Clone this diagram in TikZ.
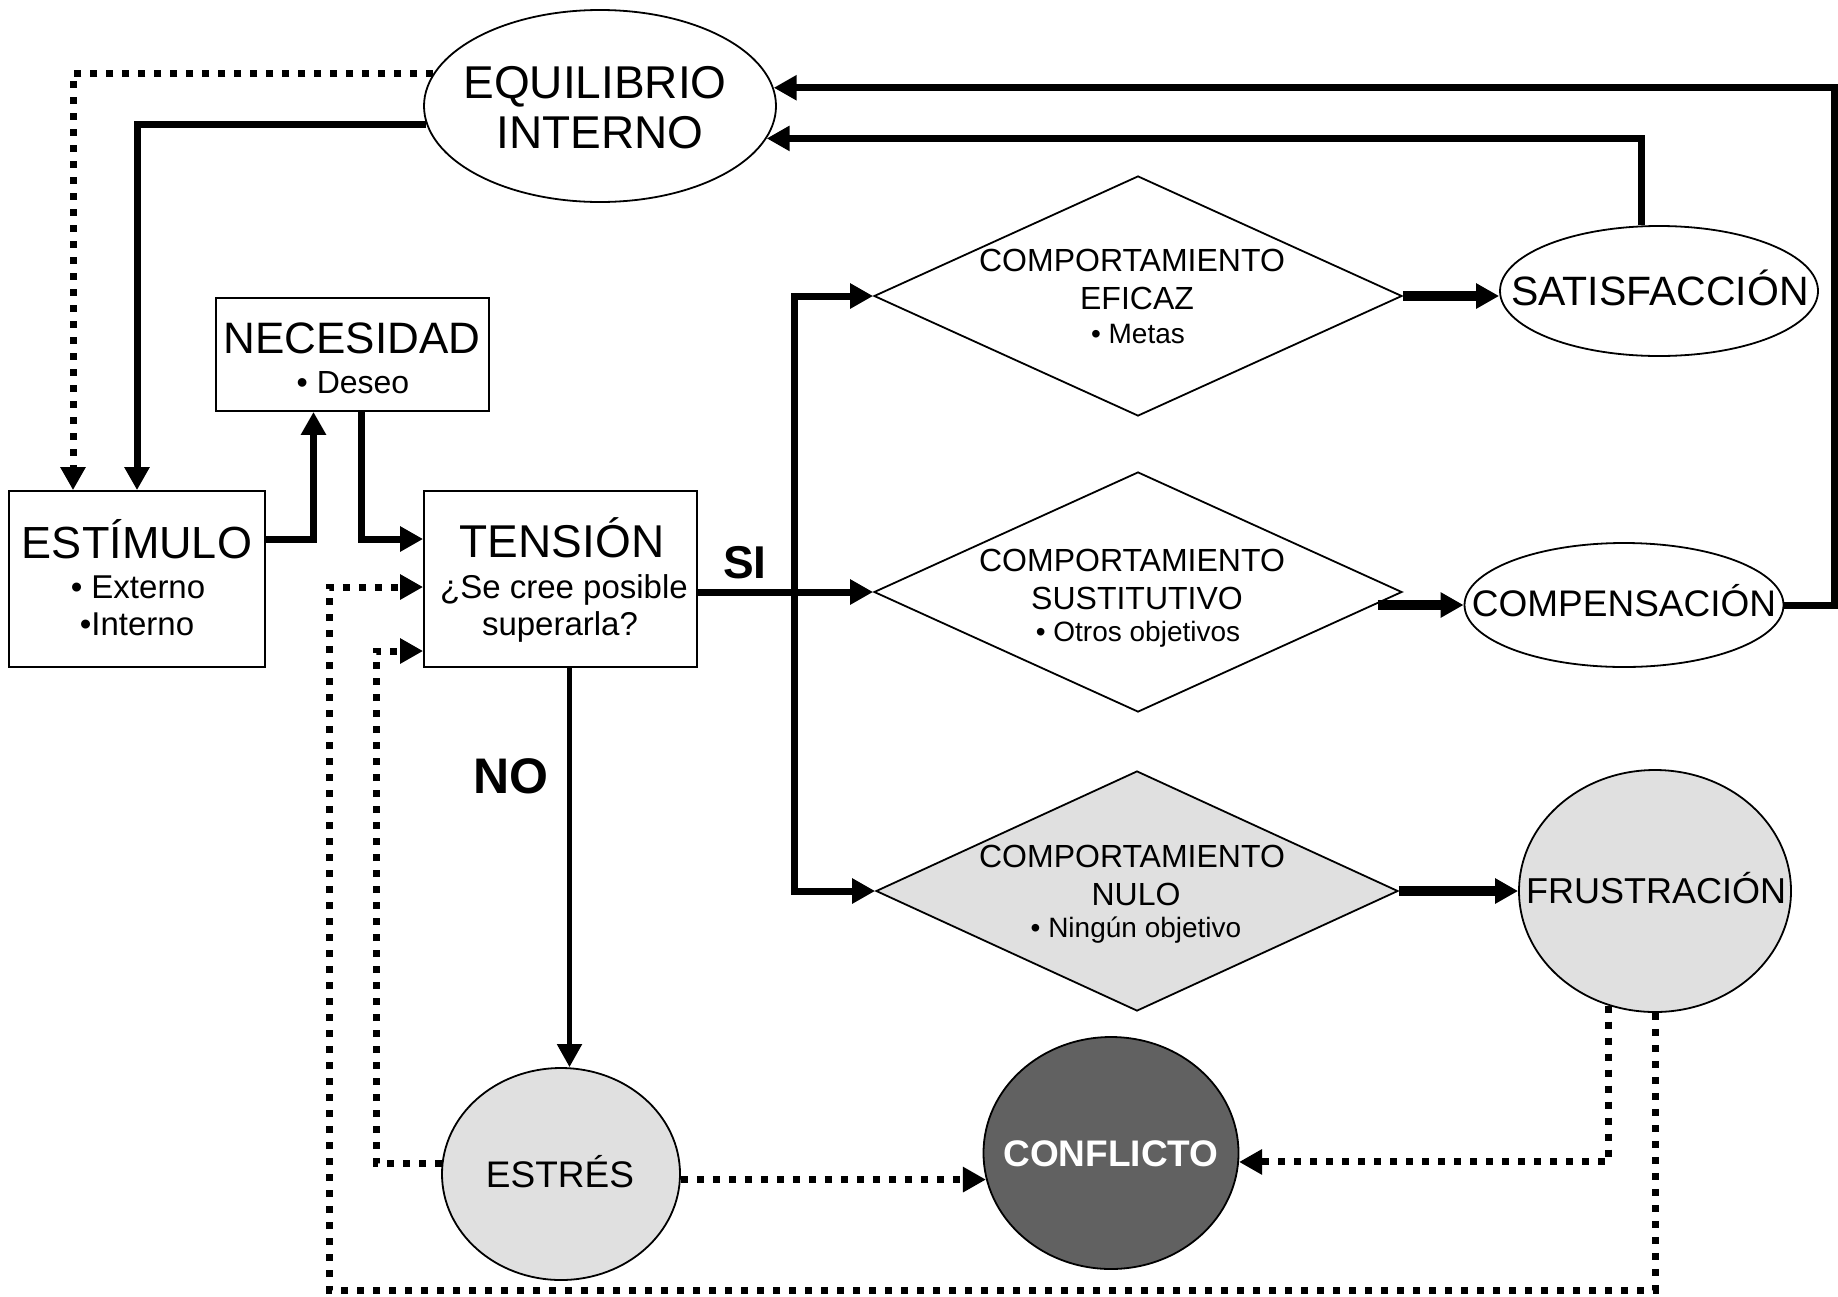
\documentclass[tikz,border=0pt]{standalone}
\usepackage{fontspec}
\setmainfont{Liberation Sans}
\usetikzlibrary{shapes.geometric, arrows.meta, calc}

\begin{document}
\begin{tikzpicture}[x=1pt, y=-1pt,
  box/.style={draw, line width=1.8pt, rectangle, inner sep=0pt, fill=white},
  oval/.style={draw, line width=1.8pt, ellipse, inner sep=0pt, fill=white},
  rhomb/.style={draw, line width=1.8pt, diamond, inner sep=0pt, fill=white},
  lbl/.style={anchor=base, inner sep=0pt},
  fs/.style={font=\fontsize{#1}{#1}\selectfont},
  fb/.style={font=\fontsize{#1}{#1}\selectfont\bfseries},
  conline/.style={line width=7pt},
  fatline/.style={line width=10pt},
  slimline/.style={line width=5pt},
  dotline/.style={line width=7pt, dash pattern=on 7pt off 9pt},
  arr/.style={-{Triangle[length=23pt,width=24pt]}},
]
\useasboundingbox (0,0) rectangle (1838,1296);

% ---------- shapes ----------
\node[oval, minimum width=352pt, minimum height=192pt] (eq) at (600,106) {};
\node[box, minimum width=273pt, minimum height=113pt] (nec) at (352.5,354.5) {};
\node[box, minimum width=256pt, minimum height=176pt] (est) at (137,579) {};
\node[box, minimum width=273pt, minimum height=176pt] (ten) at (560.5,579) {};

\node[rhomb, minimum width=528pt, minimum height=240pt] (efi) at (1138,296) {};
\node[rhomb, minimum width=528pt, minimum height=240pt] (sus) at (1138,592) {};
\node[rhomb, minimum width=522pt, minimum height=240pt, fill=black!12] (nul) at (1137,891) {};

\node[oval, minimum width=318pt, minimum height=130pt] (sat) at (1659,291) {};
\node[oval, minimum width=319pt, minimum height=124pt] (comp) at (1624,605) {};
\node[oval, minimum width=272pt, minimum height=242pt, fill=black!12] (frus) at (1655,891) {};
\node[oval, minimum width=238pt, minimum height=212pt, fill=black!12] (estres) at (561,1174) {};
\node[oval, minimum width=255pt, minimum height=232pt, fill=black!62] (conf) at (1111,1153) {};

% ---------- texts ----------
\node[lbl, fs=46] (eq-a) at (595,98) {EQUILIBRIO};
\node[lbl, fs=46] (eq-b) at (600,148) {INTERNO};

\node[lbl, fs=44] (nec-a) at (352,353) {NECESIDAD};
\node[lbl, fs=32] (nec-b) at (353,393) {• Deseo};

\node[lbl, fs=45] (est-a) at (137,558) {ESTÍMULO};
\node[lbl, fs=33] (est-b) at (138,598) {• Externo};
\node[lbl, fs=33] (est-c) at (137,635) {•Interno};

\node[lbl, fs=46] (ten-a) at (562,557) {TENSIÓN};
\node[lbl, fs=33] (ten-b) at (564,598) {¿Se cree posible};
\node[lbl, fs=33] (ten-c) at (560,635) {superarla?};

\node[lbl, fb=46] (si) at (745,578) {SI};
\node[lbl, fb=50] (no) at (511,793) {NO};

\node[lbl, fs=32] (efi-a) at (1132,271) {COMPORTAMIENTO};
\node[lbl, fs=32] (efi-b) at (1137,309) {EFICAZ};
\node[lbl, fs=28] (efi-c) at (1138,343) {• Metas};

\node[lbl, fs=32] (sus-a) at (1132,571) {COMPORTAMIENTO};
\node[lbl, fs=32] (sus-b) at (1137,609) {SUSTITUTIVO};
\node[lbl, fs=28] (sus-c) at (1138,641) {• Otros objetivos};

\node[lbl, fs=32] (nul-a) at (1132,867) {COMPORTAMIENTO};
\node[lbl, fs=32] (nul-b) at (1136,905) {NULO};
\node[lbl, fs=28] (nul-c) at (1136,937) {• Ningún objetivo};

\node[lbl, fs=41] (sat-a) at (1660,305) {SATISFACCIÓN};
\node[lbl, fs=37] (comp-a) at (1624,616) {COMPENSACIÓN};
\node[lbl, fs=36] (frus-a) at (1656,903) {FRUSTRACIÓN};
\node[lbl, fs=37] (estres-a) at (560,1187) {ESTRÉS};
\node[lbl, fb=37, text=white] (conf-a) at (1111,1166) {CONFLICTO};

% ---------- helper points ----------
\coordinate (rx) at (1834,0);
\coordinate (bus) at (794,0);
\coordinate (bl) at (329,1290);
\coordinate (tdown) at ($(ten.south)+(9,0)$);

% ---------- connectors ----------
% equilibrium back to the stimulus
\draw[dotline, arr] (eq.169) -| ($(est.north)+(-64,0)$);
\draw[conline, arr] (eq.186) -| (est.north);
% stimulus -> need -> tension
\draw[conline, arr] ($(est.east)+(0,-40)$) -| ($(nec.south)+(-39,0)$);
\draw[conline, arr] ($(nec.south)+(9,0)$) |- ($(ten.west)+(0,-40)$);
% tension: yes branch
\draw[conline, arr] (ten.east |- sus.west) -- (sus.west);
\draw[conline, arr] (bus |- sus.west) |- (efi.west);
\draw[conline, arr] (bus |- sus.west) |- (nul.west);
% behaviours -> outcomes
\draw[fatline, arr] (efi.east) -- (efi.east -| sat.west);
\draw[fatline, arr] ($(sus.east |- comp.west)+(-25,0)$) -- (comp.west);
\draw[fatline, arr] (nul.east) -- (frus.west);
% outcomes back to equilibrium
\draw[conline, arr] ($(sat.north)+(-18,0)$) |- (eq.349);
\draw[conline, arr] (comp.east) -- (comp.east -| rx) |- (eq.6);
% tension: no branch
\draw[slimline, arr] (tdown) -- (tdown |- estres.north);
% dotted feedback
\draw[dotline, arr] (estres.east |- conf.192) -- (conf.192);
\draw[dotline, arr] (frus.248) |- (conf.356);
\draw[dotline, arr] (estres.175) -| ($(ten.west)+(-47,72)$) -- ($(ten.west)+(0,72)$);
\draw[dotline, arr] (frus.south) |- (bl) |- ($(ten.west)+(0,8)$);
\end{tikzpicture}
\end{document}
